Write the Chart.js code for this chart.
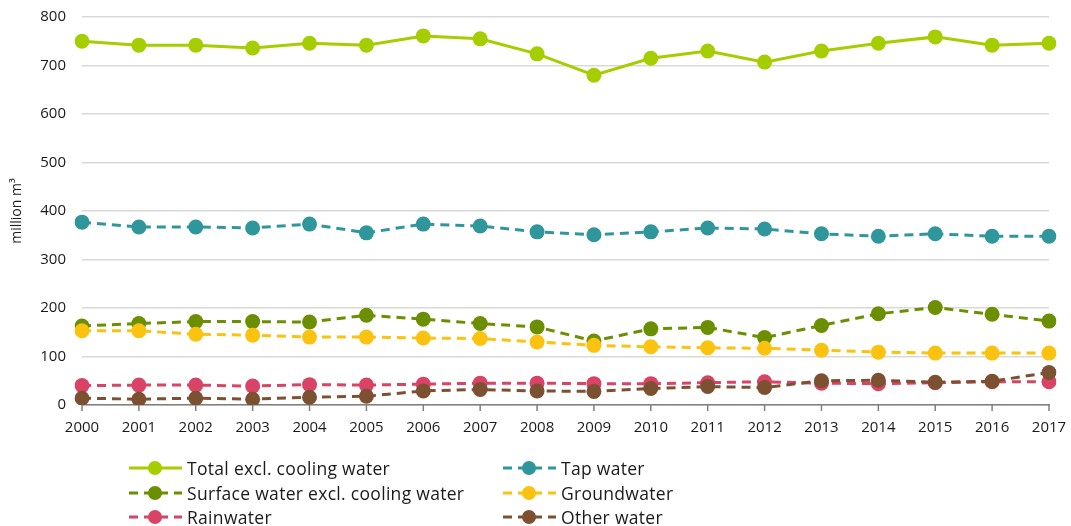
<!DOCTYPE html>
<html>
<head>
<meta charset="utf-8">
<script src="https://cdn.jsdelivr.net/npm/chart.js@4"></script>
<style>
  html, body { margin: 0; padding: 0; background: #fff; }
  #wrap { position: relative; width: 1071px; height: 526px; }
  #legend { position: absolute; left: 0; top: 0; font-family: "Open Sans", sans-serif; font-size: 17.5px; letter-spacing: 0.3px; color: #1a1a1a; }
  .item { position: absolute; display: flex; align-items: center; white-space: nowrap; }
  .item canvas { margin-right: 4px; }
</style>
</head>
<body>
<div id="wrap">
  <canvas id="myChart" width="1071" height="526"></canvas>
  <div id="legend"></div>
</div>
<script>
const years = ['2000','2001','2002','2003','2004','2005','2006','2007','2008','2009','2010','2011','2012','2013','2014','2015','2016','2017'];
const total = [750, 742, 742, 736, 746, 742, 761, 755, 724, 680, 715, 730, 707, 730, 746, 759, 742, 746];
const tap = [377, 367, 367, 365, 373, 355, 373, 369, 357, 351, 357, 365, 363, 353, 348, 353, 348, 348];
const surface = [163, 168, 172, 172, 171, 185, 177, 168, 161, 132, 157, 160, 139, 164, 188, 201, 187, 173];
const ground = [153, 153, 146, 144, 140, 140, 138, 137, 130, 123, 120, 118, 117, 113, 109, 107, 107, 107];
const rain = [40, 41, 41, 39, 42, 41, 43, 45, 45, 44, 44, 46, 48, 45, 44, 46, 48, 48];
const other = [14, 12, 14, 12, 16, 18, 29, 32, 29, 28, 34, 38, 36, 50, 51, 47, 49, 67];
const yTicks = [0, 100, 200, 300, 400, 500, 600, 700, 800];

const seriesNames = ['Total excl. cooling water', 'Tap water', 'Surface water excl. cooling water', 'Groundwater', 'Rainwater', 'Other water'];
const seriesColors = ['#a5cd00', '#2f979c', '#6b8f00', '#fbc20f', '#d84366', '#7b5131'];
const seriesData = [total, tap, surface, ground, rain, other];

const datasets = seriesData.map((d, i) => ({
    label: seriesNames[i],
    data: d,
    borderColor: seriesColors[i],
    backgroundColor: seriesColors[i],
    pointBackgroundColor: seriesColors[i],
    pointBorderWidth: 0,
    pointRadius: 7.5,
    borderWidth: 3,
    borderDash: i === 0 ? [] : [9, 6],
    tension: 0,
    order: seriesData.length - i
}));

const ctx = document.getElementById('myChart').getContext('2d');
const myChart = new Chart(ctx, {
    type: 'line',
    data: { labels: years, datasets: datasets },
    options: {
        responsive: false,
        animation: false,
        layout: { padding: { left: 0, right: 22, top: 17, bottom: 86 } },
        plugins: { legend: { display: false }, tooltip: { enabled: false } },
        scales: {
            x: {
                offset: false,
                grid: { display: false, drawOnChartArea: false },
                border: { color: '#7f7f7f', width: 1.5 },
                ticks: {
                    color: '#1a1a1a', font: { family: 'Open Sans', size: 15 }, padding: 6,
                    maxRotation: 0, autoSkip: false
                },
                afterFit: s => { s.height = 35; s.paddingLeft = 0; s.paddingRight = 0; }
            },
            y: {
                min: 0, max: 800,
                afterBuildTicks: s => { s.ticks = yTicks.map(v => ({ value: v })); },
                grid: { color: '#d9d9d9', lineWidth: 1.5, drawTicks: false },
                border: { display: false },
                ticks: { color: '#1a1a1a', font: { family: 'Open Sans', size: 15 }, padding: 16 },
                title: { display: true, text: 'million m³', color: '#1a1a1a', font: { family: 'Open Sans', size: 14 }, padding: { top: 9, bottom: 0 } },
                afterFit: s => { s.width = 82; s.paddingTop = 0; s.paddingBottom = 0; }
            }
        }
    },
    plugins: [{
        id: 'xticks',
        afterDraw(chart) {
            const c = chart.ctx, xs = chart.scales.x, b = chart.chartArea.bottom;
            c.save();
            c.strokeStyle = '#7f7f7f';
            c.lineWidth = 1.5;
            years.forEach((y, i) => {
                const px = xs.getPixelForValue(i);
                c.beginPath();
                c.moveTo(px, b);
                c.lineTo(px, b + 6);
                c.stroke();
            });
            c.restore();
        }
    }]
});

// legend in two columns
const legend = document.getElementById('legend');
const cols = [128, 502];
const rows = [468, 493, 517];
seriesNames.forEach((name, i) => {
    const item = document.createElement('div');
    item.className = 'item';
    item.style.left = cols[i % 2] + 'px';
    item.style.top = (rows[Math.floor(i / 2)] - 12) + 'px';
    const sw = document.createElement('canvas');
    sw.width = 55; sw.height = 20;
    const g = sw.getContext('2d');
    g.strokeStyle = seriesColors[i];
    g.fillStyle = seriesColors[i];
    g.lineWidth = 3;
    g.setLineDash(i === 0 ? [] : [9, 6]);
    g.beginPath(); g.moveTo(1, 10); g.lineTo(54, 10); g.stroke();
    g.beginPath(); g.arc(27, 10, 7, 0, Math.PI * 2); g.fill();
    const t = document.createElement('span');
    t.textContent = name;
    item.appendChild(sw);
    item.appendChild(t);
    legend.appendChild(item);
});
</script>
</body>
</html>
